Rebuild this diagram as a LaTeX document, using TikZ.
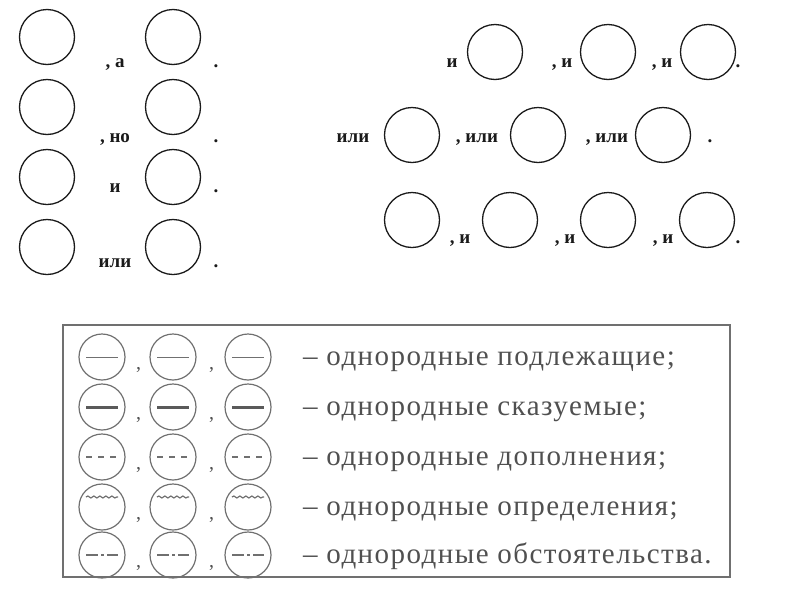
\documentclass[tikz,border=0pt]{standalone}
\usepackage{fontspec}
\setmainfont{Liberation Serif}
\newfontfamily\legendfont[LetterSpace=5]{Liberation Serif}
\usetikzlibrary{decorations.pathmorphing}
\definecolor{schemeInk}{HTML}{1A1A1A}
\definecolor{legendGray}{HTML}{707070}
\definecolor{legendText}{HTML}{505050}

\begin{document}
\begin{tikzpicture}[x=1pt, y=-1pt,
    ring/.style={circle, draw=schemeInk, line width=1.3pt, minimum size=55pt, inner sep=0pt},
    word/.style={anchor=base, inner sep=0pt, text=schemeInk, font=\fontsize{19}{19}\selectfont\bfseries},
    legendRing/.style={circle, draw=legendGray, line width=1.2pt, minimum size=46pt, inner sep=0pt},
    legendWord/.style={anchor=base west, inner sep=0pt, text=legendText, font=\legendfont\fontsize{29}{29}\selectfont},
    lineSubj/.style={draw=legendGray, line width=0.8pt},
    linePred/.style={draw=legendGray!80!black, line width=3pt},
    lineObj/.style={draw=legendGray, line width=1.3pt, dash pattern=on 6pt off 6pt},
    lineAttr/.style={draw=legendGray, line width=1.2pt, decorate, decoration={snake, amplitude=1pt, segment length=6pt}},
    lineAdv/.style={draw=legendGray, line width=1.5pt, dash pattern=on 12pt off 3pt on 3pt off 3pt}]
    \useasboundingbox (0,0) rectangle (800,600);

    % pairs on the left
    \foreach \n/\y/\lbl/\bl in {1/37/{, а}/67, 2/107/{, но}/142, 3/177/{и}/192, 4/247/{или}/267}{
        \node[ring] (p\n a) at (47,\y) {};
        \node[ring] (p\n b) at (173,\y) {};
        \node[word] (p\n w) at (115,\bl) {\lbl};
        \node[word] (p\n d) at (216,\bl) {.};
    }

    % rows on the right
    \foreach \c/\x in {1/495,2/608,3/708}
        \node[ring] (r1\c) at (\x,52) {};
    \foreach \c/\x in {1/412,2/538,3/663}
        \node[ring] (r2\c) at (\x,135) {};
    \foreach \c/\x in {1/412,2/510,3/608,4/707}
        \node[ring] (r3\c) at (\x,220) {};
    \foreach \x/\lbl [count=\i] in {452/{и},562/{, и},662/{, и},738/{.}}
        \node[word] (w1\i) at (\x,67) {\lbl};
    \foreach \x/\lbl [count=\i] in {353/{или},477/{, или},607/{, или},710/{.}}
        \node[word] (w2\i) at (\x,142) {\lbl};
    \foreach \x/\lbl [count=\i] in {460/{, и},565/{, и},663/{, и},738/{.}}
        \node[word] (w3\i) at (\x,243) {\lbl};

    % legend
    \draw[legendGray, line width=2pt] (63,325) rectangle (730,577);
    \foreach \r/\y/\kind/\off/\txt in {1/357/lineSubj/0/{подлежащие;}, 2/407/linePred/0/{сказуемые;},
            3/457/lineObj/0/{дополнения;}, 4/507/lineAttr/10/{определения;}, 5/555/lineAdv/0/{обстоятельства.}}{
        \foreach \c/\x in {1/102,2/173,3/248}{
            \node[legendRing] (m\r\c) at (\x,\y) {};
            \draw[\kind] ([xshift=-16pt, yshift=\off pt]m\r\c.center) -- ([xshift=16pt, yshift=\off pt]m\r\c.center);
        }
        \node[legendWord, font=\fontsize{20}{20}\selectfont] (k\r a) at (136,\y+12) {,};
        \node[legendWord, font=\fontsize{20}{20}\selectfont] (k\r b) at (209,\y+12) {,};
        \node[legendWord] (t\r) at (303,\y+8) {– однородные \txt};
    }
\end{tikzpicture}
\end{document}
